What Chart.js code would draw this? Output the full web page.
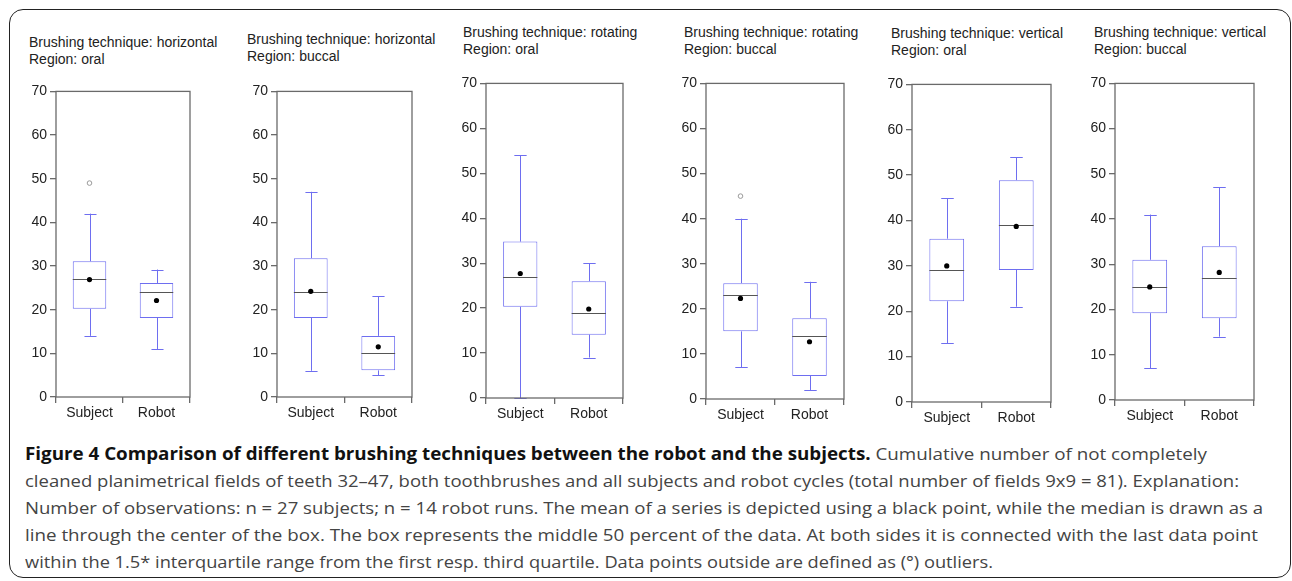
<!DOCTYPE html>
<html>
<head>
<meta charset="utf-8">
<script src="https://cdn.jsdelivr.net/npm/chart.js@4.4.1/dist/chart.umd.min.js"></script>
<style>
  html, body { margin: 0; padding: 0; background: #fff; }
  body { width: 1292px; height: 581px; position: relative; overflow: hidden; }
  .frame {
    position: absolute; left: 9px; top: 9px; width: 1282px; height: 569px;
    border: 1.5px solid #222; border-radius: 14px; box-sizing: border-box;
  }
  .panel { position: absolute; }
  .ptitle {
    position: absolute; font-family: 'Liberation Sans', Arial, sans-serif;
    font-size: 14px; line-height: 16.5px; color: #222; white-space: nowrap;
  }
  .caption {
    position: absolute; left: 25px; top: 440px;
    font-family: 'Open Sans', 'Noto Sans', sans-serif; font-size: 17px;
    line-height: 27px; color: #444;
  }
  .caption div { white-space: nowrap; transform-origin: 0 50%; width: max-content; }
  .caption b { color: #111; font-weight: 700; }
</style>
</head>
<body>
<div class="frame"></div>
<div id="panels"></div>
<div class="caption" id="caption">
  <div><b>Figure 4 Comparison of different brushing techniques between the robot and the subjects.</b> Cumulative number of not completely</div>
  <div>cleaned planimetrical fields of teeth 32–47, both toothbrushes and all subjects and robot cycles (total number of fields 9x9 = 81). Explanation:</div>
  <div>Number of observations: n = 27 subjects; n = 14 robot runs. The mean of a series is depicted using a black point, while the median is drawn as a</div>
  <div>line through the center of the box. The box represents the middle 50 percent of the data. At both sides it is connected with the last data point</div>
  <div>within the 1.5* interquartile range from the first resp. third quartile. Data points outside are defined as (°) outliers.</div>
</div>
<script>
const categories = ['Subject', 'Robot'];

const panelTitles = [
  ['Brushing technique: horizontal', 'Region: oral'],
  ['Brushing technique: horizontal', 'Region: buccal'],
  ['Brushing technique: rotating', 'Region: oral'],
  ['Brushing technique: rotating', 'Region: buccal'],
  ['Brushing technique: vertical', 'Region: oral'],
  ['Brushing technique: vertical', 'Region: buccal']
];

// per panel: [Subject, Robot]
const whiskerLow  = [[14, 11], [6, 5], [0, 9], [7, 2], [13, 21], [7, 14]];
const quartile1   = [[20.2, 18.1], [18.1, 6.1], [20.3, 14.1], [15, 5.1], [22.2, 29.1], [19.2, 18.1]];
const medians     = [[27.1, 24.1], [24, 10], [27, 19], [23, 14], [29.1, 39], [25, 27]];
const quartile3   = [[31.1, 26.1], [31.8, 14], [34.8, 26], [25.7, 17.9], [36, 48.9], [31, 34]];
const whiskerHigh = [[42, 29.2], [47, 23.1], [54, 30], [40, 26], [44.9, 53.9], [41, 47]];
const means       = [[26.9, 22.1], [24.2, 11.5], [27.7, 19.8], [22.3, 12.7], [30, 38.7], [25, 28.2]];
const outliers    = [[49, null], [null, null], [null, null], [45, null], [null, null], [null, null]];

const yMin = 0, yMax = 70, yStep = 10;

// plot area of each panel in page pixels: left, top, right, bottom; title left/top
const panelBoxes = [
  { l: 56,   t: 88, r: 190,  b: 397, tx: 29,   ty: 34 },
  { l: 277,  t: 88, r: 412,  b: 397, tx: 247,  ty: 31 },
  { l: 486,  t: 80, r: 623,  b: 398, tx: 463,  ty: 24 },
  { l: 706,  t: 80, r: 844,  b: 399, tx: 684,  ty: 24 },
  { l: 912,  t: 81, r: 1051, b: 402, tx: 891,  ty: 25 },
  { l: 1115, t: 80, r: 1254, b: 400, tx: 1094, ty: 24 }
];

const BOX_BLUE = '#6e6ef0';
const AXIS_GRAY = '#6a6a6a';
const PAD_L = 40, PAD_T = 8, PAD_R = 8, PAD_B = 30;

// whiskers, caps, median, frame
const boxPartsPlugin = {
  id: 'boxParts',
  beforeDatasetsDraw(chart) {
    const p = chart.options.plugins.boxParts;
    const { ctx, chartArea: a } = chart;
    const x = chart.scales.x, y = chart.scales.y;
    const cap = (x.getPixelForValue(1) - x.getPixelForValue(0)) * 0.09;
    ctx.save();
    ctx.strokeStyle = BOX_BLUE;
    ctx.lineWidth = 1;
    p.low.forEach((lo, i) => {
      const cx = Math.round(x.getPixelForValue(i)) + 0.5;
      const segs = [[lo, p.q1[i]], [p.q3[i], p.high[i]]];
      segs.forEach(([v0, v1]) => {
        ctx.beginPath();
        ctx.moveTo(cx, y.getPixelForValue(v0));
        ctx.lineTo(cx, y.getPixelForValue(v1));
        ctx.stroke();
      });
      [lo, p.high[i]].forEach(v => {
        const py = Math.round(y.getPixelForValue(v)) + 0.5;
        ctx.beginPath();
        ctx.moveTo(cx - cap, py);
        ctx.lineTo(cx + cap, py);
        ctx.stroke();
      });
    });
    ctx.restore();
  },
  afterDatasetDraw(chart, args) {
    if (args.index !== 0) return;
    const p = chart.options.plugins.boxParts;
    const { ctx } = chart;
    const meta = chart.getDatasetMeta(0);
    const y = chart.scales.y;
    ctx.save();
    ctx.strokeStyle = '#555';
    ctx.lineWidth = 1.2;
    meta.data.forEach((bar, i) => {
      const half = bar.width / 2;
      const py = Math.round(y.getPixelForValue(p.med[i])) + 0.5;
      ctx.beginPath();
      ctx.moveTo(bar.x - half, py);
      ctx.lineTo(bar.x + half, py);
      ctx.stroke();
    });
    ctx.restore();
  },
  afterDraw(chart) {
    const { ctx, chartArea: a } = chart;
    ctx.save();
    ctx.strokeStyle = AXIS_GRAY;
    ctx.lineWidth = 1.3;
    ctx.strokeRect(a.left, a.top, a.right - a.left, a.bottom - a.top);
    ctx.restore();
  }
};

function makePanel(k) {
  const box = panelBoxes[k];
  const holder = document.getElementById('panels');

  const title = document.createElement('div');
  title.className = 'ptitle';
  title.style.left = box.tx + 'px';
  title.style.top = box.ty + 'px';
  title.innerHTML = panelTitles[k].join('<br>');
  holder.appendChild(title);

  const wrap = document.createElement('div');
  wrap.className = 'panel';
  wrap.style.left = (box.l - PAD_L) + 'px';
  wrap.style.top = (box.t - PAD_T) + 'px';
  wrap.style.width = (box.r - box.l + PAD_L + PAD_R) + 'px';
  wrap.style.height = (box.b - box.t + PAD_T + PAD_B) + 'px';
  const canvas = document.createElement('canvas');
  wrap.appendChild(canvas);
  holder.appendChild(wrap);

  const tickFont = { family: "'Liberation Sans', Arial, sans-serif", size: 14 };

  new Chart(canvas.getContext('2d'), {
    type: 'bar',
    data: {
      labels: categories,
      datasets: [
        {
          type: 'bar',
          data: quartile1[k].map((v, i) => [v, quartile3[k][i]]),
          backgroundColor: '#fff',
          borderColor: BOX_BLUE,
          borderWidth: 1,
          borderSkipped: false,
          barPercentage: 0.5,
          categoryPercentage: 1,
          order: 3
        },
        {
          type: 'line',
          data: means[k],
          showLine: false,
          pointRadius: 2.6,
          pointBackgroundColor: '#000',
          pointBorderColor: '#000',
          pointBorderWidth: 0,
          order: 1
        },
        {
          type: 'line',
          data: outliers[k],
          showLine: false,
          pointRadius: 2.3,
          pointBackgroundColor: '#fff',
          pointBorderColor: '#999',
          pointBorderWidth: 1,
          order: 2
        }
      ]
    },
    options: {
      responsive: true,
      maintainAspectRatio: false,
      animation: false,
      events: [],
      layout: { padding: { left: 0, top: PAD_T, right: PAD_R, bottom: 0 } },
      plugins: {
        legend: { display: false },
        tooltip: { enabled: false },
        boxParts: {
          low: whiskerLow[k], q1: quartile1[k], med: medians[k],
          q3: quartile3[k], high: whiskerHigh[k]
        }
      },
      scales: {
        x: {
          offset: true,
          grid: { display: true, offset: true, drawOnChartArea: false, drawTicks: true, tickLength: 6, color: AXIS_GRAY, lineWidth: 1.3 },
          border: { display: false },
          ticks: { color: '#222', font: tickFont, padding: 2, maxRotation: 0 },
          afterFit(scale) { scale.height = PAD_B; }
        },
        y: {
          min: yMin, max: yMax,
          grid: { display: true, drawOnChartArea: false, drawTicks: true, tickLength: 6, color: AXIS_GRAY, lineWidth: 1.3 },
          border: { display: false },
          ticks: { stepSize: yStep, color: '#222', font: tickFont, padding: 3 },
          afterFit(scale) { scale.width = PAD_L; }
        }
      }
    },
    plugins: [boxPartsPlugin]
  });
}

panelTitles.forEach((t, k) => makePanel(k));

// stretch each caption line to the width it has in the figure
const captionWidths = [1182, 1214, 1238, 1233, 968];
function fitCaption() {
  const lines = document.querySelectorAll('#caption > div');
  lines.forEach((el, i) => {
    el.style.transform = 'none';
    const w = el.getBoundingClientRect().width;
    if (w > 0) el.style.transform = 'scaleX(' + (captionWidths[i] / w) + ')';
  });
}
fitCaption();
if (document.fonts && document.fonts.ready) document.fonts.ready.then(fitCaption);
</script>
</body>
</html>
